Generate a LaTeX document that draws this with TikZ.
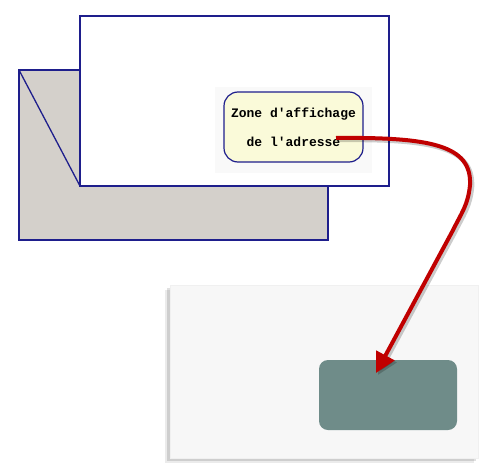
\documentclass[tikz,border=0pt]{standalone}
\usepackage{fontspec}
\setmonofont{Liberation Mono}
\usetikzlibrary{arrows.meta}
\definecolor{navy}{HTML}{1E1E8C}
\definecolor{envgray}{HTML}{D4D0CB}
\definecolor{labelfill}{HTML}{FAFAD9}
\definecolor{patch}{HTML}{F9F9F9}
\definecolor{paper}{HTML}{F7F7F7}
\definecolor{win}{HTML}{6F8C89}
\definecolor{arrred}{HTML}{C00000}
\tikzset{
  sheet/.style={draw=navy, line width=1.3pt},
  label/.style={draw=navy, line width=1.2pt, fill=labelfill, rounded corners=14pt,
    minimum width=139pt, minimum height=70pt, align=center,
    font=\ttfamily\bfseries\fontsize{13}{29}\selectfont},
  redarrow/.style={draw=arrred, line width=4pt, -{Triangle[length=20pt,width=20pt]}},
  shadowarrow/.style={draw=black, opacity=0.2, line width=4.5pt, -{Triangle[length=20pt,width=20pt]}},
}
\begin{document}
\begin{tikzpicture}[x=1pt,y=-1pt]
\useasboundingbox (0,0) rectangle (500,471);
% back envelope
\path[sheet, fill=envgray] (19,70) rectangle (328,240);
% front sheet
\path[sheet, fill=white] (80,16) rectangle (389,186);
\draw[navy, line width=1.3pt] (19,70) -- (80,186);
% light patch behind label
\fill[patch] (215,87) rectangle (372,173);
\node[label] (lbl) at (293.5,127) {Zone d'affichage\\de l'adresse};
\coordinate (start) at (336,138);
% bottom envelope with shadow
\fill[black, opacity=0.08] (165,290) rectangle (474,463);
\fill[black, opacity=0.12] (167,288) rectangle (476,461);
\node[fill=paper, draw=black!6, minimum width=308pt, minimum height=173pt, inner sep=0pt] (env) at (324.5,371.5) {};
\node[fill=win, rounded corners=9pt, minimum width=138pt, minimum height=70pt, inner sep=0pt] (win) at (388,395) {};
\coordinate (tip) at (376,373);
% arrow shadow
\draw[shadowarrow, transform canvas={shift={(2pt,-2pt)}}] (start) .. controls (430,137) and (472,145) .. (470,185) .. controls (468,205) and (462,212) .. (452,232) -- (tip);
\draw[redarrow] (start) .. controls (430,137) and (472,145) .. (470,185) .. controls (468,205) and (462,212) .. (452,232) -- (tip);
\end{tikzpicture}
\end{document}
